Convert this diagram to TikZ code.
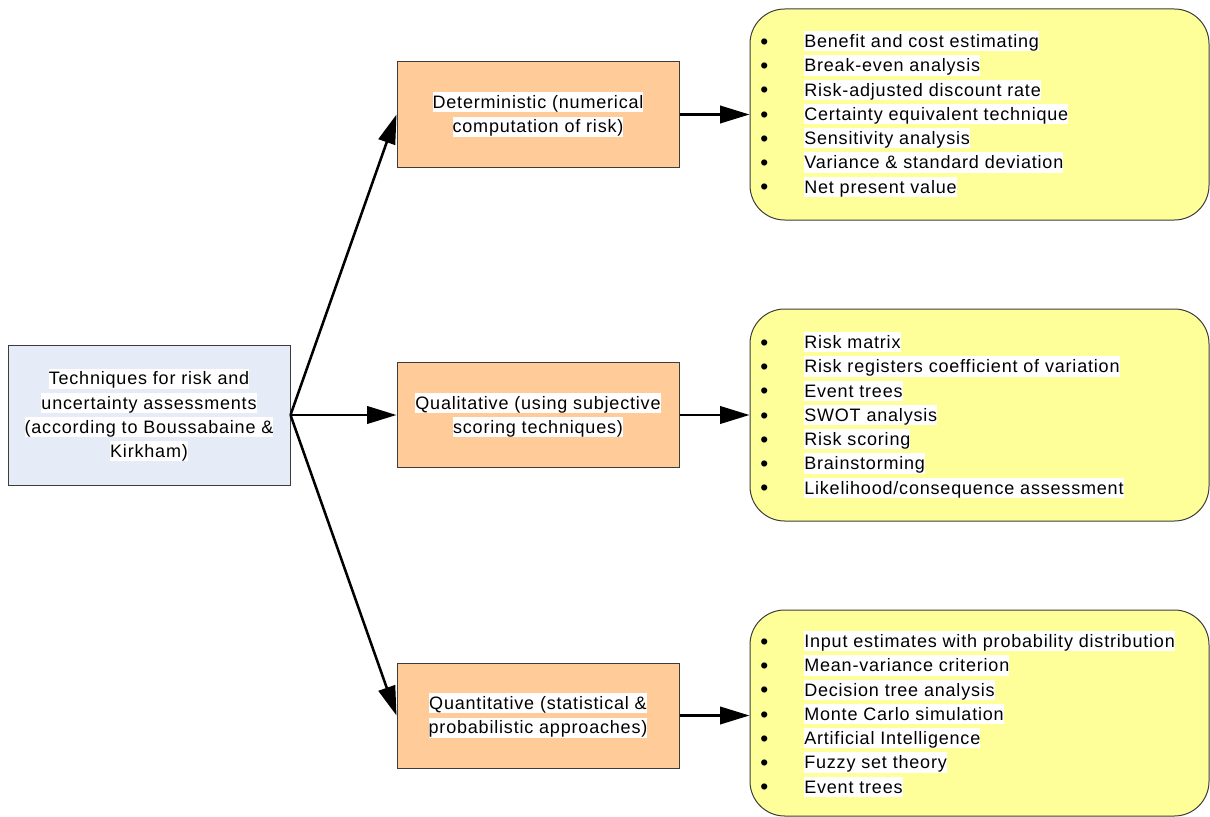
\documentclass[tikz,border=0pt]{standalone}
\usepackage{fontspec}
\setmainfont[LetterSpace=4.5]{Liberation Sans}
\usetikzlibrary{arrows.meta}
\definecolor{rootfill}{HTML}{E6ECF7}
\definecolor{catfill}{HTML}{FFCC99}
\definecolor{listfill}{HTML}{FFFF99}
\definecolor{edgegray}{HTML}{3C3C3C}
% white highlight behind a text line
\newcommand{\wl}[1]{{\setlength{\fboxsep}{0pt}\colorbox{white}{\rule[-0.21em]{0pt}{1.12em}#1}}}
% bullet with its hanging gap
\newcommand{\bl}{\makebox[33pt][l]{\raisebox{-1.4pt}{\fontsize{17pt}{18pt}\selectfont\textbullet}}}
\tikzset{
  every node/.style={font=\fontsize{13.5pt}{18.2pt}\selectfont},
  rootbox/.style={draw=edgegray, line width=0.75pt, fill=rootfill, align=center,
    minimum width=211.5pt, minimum height=105pt, inner sep=0pt},
  catbox/.style={draw=edgegray, line width=0.75pt, fill=catfill, align=center,
    minimum width=211.5pt, minimum height=78.75pt, inner sep=0pt},
  listbox/.style={draw=edgegray, line width=0.75pt, fill=listfill, rounded corners=26pt,
    minimum width=344.25pt, inner sep=0pt},
  listtext/.style={inner sep=0pt, anchor=base west},
  conn/.style={line width=1.9pt, -{Triangle[length=22pt,width=13pt]}},
}
\begin{document}
\begin{tikzpicture}[x=0.75pt, y=-0.75pt]
\useasboundingbox (0,0) rectangle (1210,817);

% root and category boxes
\node[rootbox] (root) at (149,415) {\wl{Techniques for risk and}\\ \wl{uncertainty assessments}\\ \wl{(according to Boussabaine \&}\\ \wl{Kirkham)}};
\node[catbox] (det) at (538,114.5) {\wl{Deterministic (numerical}\\ \wl{computation of risk)}};
\node[catbox] (qual) at (538,415) {\wl{Qualitative (using subjective}\\ \wl{scoring techniques)}};
\node[catbox] (quant) at (538,715.5) {\wl{Quantitative (statistical \&}\\ \wl{probabilistic approaches)}};

% technique lists
\node[listbox, minimum height=158.25pt] (lst1) at (979.5,114.5) {};
\node[listbox, minimum height=159pt] (lst2) at (979.5,415) {};
\node[listbox, minimum height=154.5pt] (lst3) at (979.5,713) {};

\node[listtext] (t1) at (760,47.5) {\begin{tabular}[t]{@{}l@{}}
\bl\wl{Benefit and cost estimating}\\
\bl\wl{Break-even analysis}\\
\bl\wl{Risk-adjusted discount rate}\\
\bl\wl{Certainty equivalent technique}\\
\bl\wl{Sensitivity analysis}\\
\bl\wl{Variance \& standard deviation}\\
\bl\wl{Net present value}
\end{tabular}};
\node[listtext] (t2) at (760,348.5) {\begin{tabular}[t]{@{}l@{}}
\bl\wl{Risk matrix}\\
\bl\wl{Risk registers coefficient of variation}\\
\bl\wl{Event trees}\\
\bl\wl{SWOT analysis}\\
\bl\wl{Risk scoring}\\
\bl\wl{Brainstorming}\\
\bl\wl{Likelihood/consequence assessment}
\end{tabular}};
\node[listtext] (t3) at (760,647.5) {\begin{tabular}[t]{@{}l@{}}
\bl\wl{Input estimates with probability distribution}\\
\bl\wl{Mean-variance criterion}\\
\bl\wl{Decision tree analysis}\\
\bl\wl{Monte Carlo simulation}\\
\bl\wl{Artificial Intelligence}\\
\bl\wl{Fuzzy set theory}\\
\bl\wl{Event trees}
\end{tabular}};

% connectors
\draw[conn] (root.east) -- (det.west);
\draw[conn] (root.east) -- (qual.west);
\draw[conn] (root.east) -- (quant.west);
\draw[conn] (det.east) -- (det.east -| lst1.west);
\draw[conn] (qual.east) -- (qual.east -| lst2.west);
\draw[conn] (quant.east) -- (quant.east -| lst3.west);
\end{tikzpicture}
\end{document}
